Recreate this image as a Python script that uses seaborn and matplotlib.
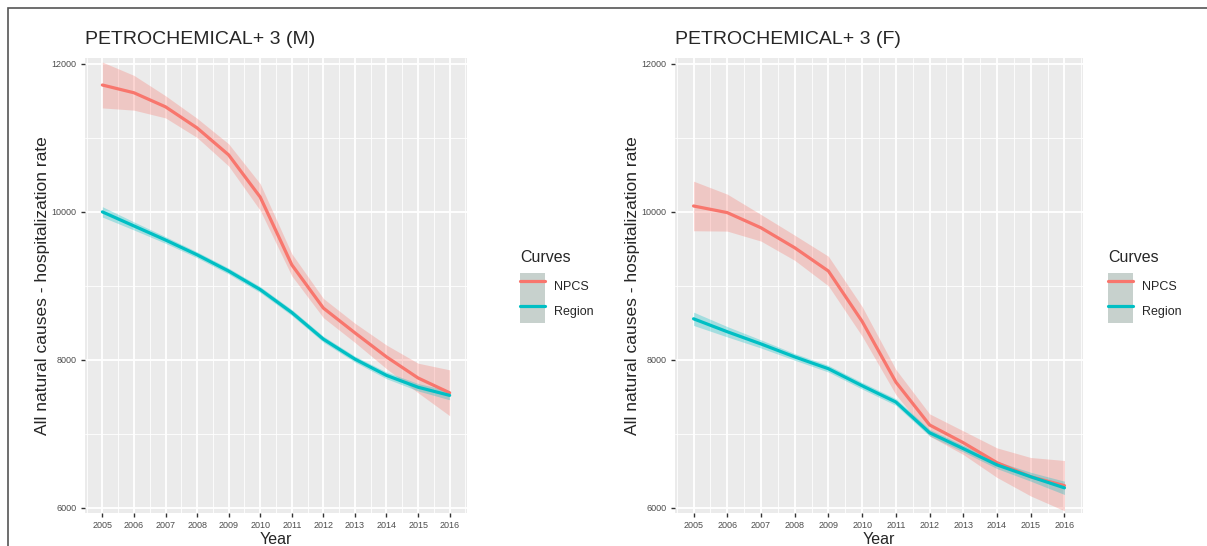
import numpy as np
import pandas as pd
import seaborn as sns
import matplotlib.pyplot as plt
from matplotlib.patches import Patch, Rectangle
from matplotlib.lines import Line2D
from matplotlib.ticker import MultipleLocator

# values
years = [2005, 2006, 2007, 2008, 2009, 2010, 2011, 2012, 2013, 2014, 2015, 2016]

m_npcs = [11715, 11610, 11420, 11135, 10770, 10200, 9285, 8700, 8365, 8040, 7755, 7555]
m_npcs_band = [310, 235, 150, 130, 150, 180, 150, 130, 130, 160, 200, 310]
m_region = [10000, 9810, 9620, 9420, 9200, 8950, 8640, 8280, 8010, 7790, 7630, 7520]
m_region_band = [70, 55, 45, 40, 40, 40, 40, 40, 40, 45, 50, 60]

f_npcs = [10080, 9990, 9785, 9515, 9200, 8520, 7700, 7120, 6880, 6610, 6420, 6300]
f_npcs_band = [335, 250, 180, 170, 200, 200, 170, 150, 160, 200, 260, 340]
f_region = [8555, 8380, 8215, 8040, 7880, 7650, 7430, 7015, 6800, 6580, 6420, 6270]
f_region_band = [90, 70, 55, 45, 45, 45, 45, 45, 45, 50, 60, 90]

curves = ["NPCS", "Region"]
colors = {"NPCS": "#F8766D", "Region": "#00BFC4"}
titles = ["PETROCHEMICAL+ 3 (M)", "PETROCHEMICAL+ 3 (F)"]

sns.set_theme(style="darkgrid")
plt.rcParams["font.family"] = ["Liberation Sans", "DejaVu Sans"]

W, H = 1207, 546
fig = plt.figure(figsize=(W / 100, H / 100), dpi=100)

panels = [
    (titles[0], m_npcs, m_npcs_band, m_region, m_region_band, [85, 467], 520),
    (titles[1], f_npcs, f_npcs_band, f_region, f_region_band, [675, 1083], 1108),
]

for title, npcs, npcs_b, region, region_b, xs, leg_x in panels:
    ax = fig.add_axes([xs[0] / W, 1 - 513 / H, (xs[1] - xs[0]) / W, 455 / H])
    ax.set_facecolor("#EBEBEB")

    df = pd.DataFrame({
        "Year": years * 2,
        "rate": npcs + region,
        "Curves": ["NPCS"] * len(years) + ["Region"] * len(years),
    })
    bands = {"NPCS": (npcs, npcs_b), "Region": (region, region_b)}
    for c in curves:
        vals, b = bands[c]
        vals = np.array(vals)
        b = np.array(b)
        ax.fill_between(years, vals - b, vals + b, color=colors[c], alpha=0.3, lw=0)

    sns.lineplot(data=df, x="Year", y="rate", hue="Curves", palette=colors,
                 lw=2.3, ax=ax, legend=False)

    ax.set_xlim(2004.45, 2016.55)
    ax.set_ylim(5930, 12080)
    ax.set_xticks(years)
    ax.xaxis.set_minor_locator(MultipleLocator(0.5))
    ax.set_yticks([6000, 8000, 10000, 12000])
    ax.yaxis.set_minor_locator(MultipleLocator(1000))
    ax.grid(which="major", color="white", lw=1.3)
    ax.grid(which="minor", color="white", lw=0.6)
    ax.tick_params(which="major", length=3, width=1, color="#333333",
                   labelsize=6.5, labelcolor="#4D4D4D", pad=3, bottom=True, left=True)
    ax.tick_params(which="minor", length=0)
    for s in ax.spines.values():
        s.set_visible(False)

    ax.set_xlabel("Year", fontsize=11.5, labelpad=1)
    ax.set_ylabel("All natural causes - hospitalization rate", fontsize=12.5, labelpad=1)
    ax.set_title(title, loc="left", fontsize=14, pad=10)

    handles = [(Patch(facecolor="#C7D1CD", edgecolor="none"),
                Line2D([], [], color=colors[c], lw=2.3)) for c in curves]
    leg = ax.legend(handles, curves, title="Curves", loc="upper left",
                    bbox_to_anchor=(leg_x / W, 1 - 250 / H), bbox_transform=fig.transFigure,
                    frameon=False, fontsize=9, title_fontsize=11.5, alignment="left",
                    handlelength=2.0, handleheight=2.7, labelspacing=0.0,
                    handletextpad=0.7, borderpad=0, borderaxespad=0)
    leg._legend_box.sep = 6  # gap between title and keys

# thin frame around the figure (bottom edge falls outside the image)
fig.patches.append(Rectangle((8 / W, -0.1), 1.2, 1.1 - 8 / H, transform=fig.transFigure,
                             fill=False, edgecolor="#555555", lw=1.2))

fig.savefig("out.png", dpi=100, facecolor="white")
